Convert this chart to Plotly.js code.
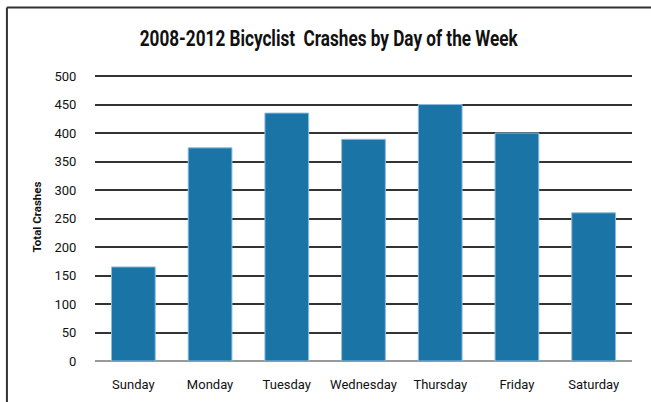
<!DOCTYPE html>
<html>
<head>
<meta charset="utf-8">
<script src="https://cdn.plot.ly/plotly-3.0.1.min.js"></script>
<style>
html,body{margin:0;padding:0;background:#fff;}
#chart{width:651px;height:402px;}
</style>
</head>
<body>
<div id="chart"></div>
<script>
const days = ["Sunday", "Monday", "Tuesday", "Wednesday", "Thursday", "Friday", "Saturday"];
const crashes = [165, 374, 435, 389, 450, 400, 260];
const yTicks = [0, 50, 100, 150, 200, 250, 300, 350, 400, 450, 500];

const FONT = 'Roboto, "DejaVu Sans", sans-serif';

const trace = {
  type: 'bar',
  x: days,
  y: crashes,
  marker: { color: '#1a74a6', line: { color: '#8cbde0', width: 1 } },
  hoverinfo: 'x+y'
};

const layout = {
  width: 651, height: 402,
  margin: { l: 95, r: 19, t: 73, b: 41 },
  paper_bgcolor: '#fff', plot_bgcolor: '#fff',
  bargap: 0.43,
  showlegend: false,
  title: {
    text: '<b>2008-2012 Bicyclist  Crashes by Day of the Week</b>',
    font: { family: FONT, size: 22, color: '#111' },
    x: 0.505, xanchor: 'center', y: 0.905, yanchor: 'middle'
  },
  xaxis: {
    tickfont: { family: FONT, size: 13, color: '#111' },
    ticks: 'outside', ticklen: 11, tickcolor: 'rgba(0,0,0,0)',
    showline: false, showgrid: false, zeroline: false
  },
  yaxis: {
    range: [0, 505.3],
    tickvals: yTicks,
    ticktext: yTicks.map(String),
    tickfont: { family: FONT, size: 13, color: '#111' },
    ticks: 'outside', ticklen: 15, tickcolor: 'rgba(0,0,0,0)',
    showgrid: true, gridcolor: '#333', gridwidth: 2,
    zeroline: true, zerolinecolor: '#999', zerolinewidth: 2,
    title: { text: '<b>Total Crashes</b>', font: { family: FONT, size: 11.5, color: '#111' }, standoff: 10 }
  },
  shapes: [
    { type: 'line', xref: 'paper', yref: 'paper', x0: -0.164, x1: 1.1, y0: 1.2275, y1: 1.2275, line: { color: '#333', width: 2 } },
    { type: 'line', xref: 'paper', yref: 'paper', x0: -0.164, x1: -0.164, y0: 1.2275, y1: -0.3, line: { color: '#333', width: 2 } }
  ]
};

Plotly.newPlot('chart', [trace], layout, { displayModeBar: false, staticPlot: true }).then(function (gd) {
  // narrow the title horizontally to mimic the condensed face of the original
  const t = gd.querySelector('.gtitle');
  if (t) {
    const cx = parseFloat(t.getAttribute('x')) || 0;
    const s = 0.78;
    const prev = t.getAttribute('transform') || '';
    t.setAttribute('transform', 'translate(' + (cx * (1 - s)) + ',0) scale(' + s + ',1) ' + prev);
  }
});
</script>
</body>
</html>
